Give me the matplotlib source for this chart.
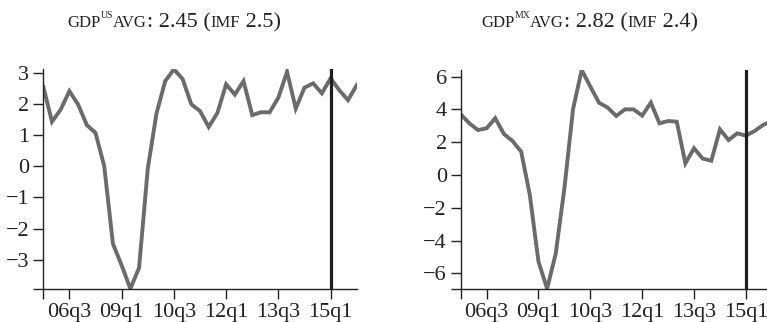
import matplotlib
matplotlib.use("Agg")
import matplotlib.pyplot as plt
from matplotlib.transforms import IdentityTransform

plt.rcParams['font.family'] = ['Liberation Serif', 'DejaVu Serif']

# ---- data ----
tick_pos = [3, 9, 15, 21, 27, 33]
tick_labels = ["06q3", "09q1", "10q3", "12q1", "13q3", "15q1"]
marker_q = 33  # vertical line position (15q1)

us_gdp = [2.55, 1.43, 1.82, 2.41, 1.98, 1.32, 1.07, 0.00, -2.49, -3.18,
          -3.93, -3.26, -0.08, 1.69, 2.73, 3.11, 2.80, 1.99, 1.77, 1.26,
          1.71, 2.63, 2.30, 2.73, 1.64, 1.73, 1.73, 2.20, 3.03, 1.85,
          2.52, 2.66, 2.34, 2.82, 2.44, 2.12, 2.60]
mx_gdp = [3.70, 3.15, 2.74, 2.85, 3.46, 2.50, 2.07, 1.42, -1.22, -5.28,
          -6.93, -4.78, -0.81, 4.02, 6.40, 5.39, 4.41, 4.11, 3.60, 4.00,
          4.00, 3.62, 4.41, 3.15, 3.29, 3.25, 0.71, 1.63, 1.00, 0.87,
          2.78, 2.13, 2.54, 2.40, 2.68, 3.05, 3.30]
us_yticks = [-3, -2, -1, 0, 1, 2, 3]
mx_yticks = [-6, -4, -2, 0, 2, 4, 6]

us_title = [("GDP", 12, 0), ("US", 7, 9), ("AVG", 12, 0), (": 2.45 (", 16, 0),
            ("IMF", 12, 0), (" 2.5)", 16, 0)]
mx_title = [("GDP", 12, 0), ("MX", 7, 9), ("AVG", 12, 0), (": 2.82 (", 16, 0),
            ("IMF", 12, 0), (" 2.4)", 16, 0)]

W, H = 767, 322
fig = plt.figure(figsize=(W / 100, H / 100), dpi=100)

line_color = "#6b6b6b"
vline_color = "#1e1e1e"
tick_fs = 16


def make_axes(rect, values, yticks):
    ax = fig.add_axes(rect)
    x = list(range(len(values)))
    ax.plot(x, values, color=line_color, lw=2.8, solid_joinstyle="miter")
    ax.axvline(marker_q, color=vline_color, lw=2.3)
    ax.set_xlim(0, len(values) - 1)
    ax.set_ylim(min(values), max(values))
    ax.set_xticks(tick_pos)
    ax.set_xticklabels(tick_labels)
    ax.set_yticks(yticks)
    ax.set_yticklabels([f"{v}".replace("-", "\u2212") for v in yticks])
    ax.set_xticks([0], minor=True)
    ax.set_yticks([min(values)], minor=True)
    for s in ("top", "right"):
        ax.spines[s].set_visible(False)
    for s in ("left", "bottom"):
        ax.spines[s].set_linewidth(1.0)
        ax.spines[s].set_color("#222222")
    ax.tick_params(which="both", direction="out", length=7, width=1.0,
                   color="#222222", labelsize=tick_fs, labelcolor="#222222", pad=3)
    ax.tick_params(which="minor", labelleft=False, labelbottom=False)
    ax.patch.set_alpha(0)
    return ax


make_axes([43.3 / W, 33.3 / H, (356.7 - 43.3) / W, (252.7 - 33.3) / H],
          us_gdp, us_yticks)
make_axes([460.7 / W, 33.3 / H, (771.8 - 460.7) / W, (252.0 - 33.3) / H],
          mx_gdp, mx_yticks)

renderer = fig.canvas.get_renderer()


def draw_title(cx, base_y, pieces):
    texts = []
    widths = []
    for s, size, rise in pieces:
        t = fig.text(0, base_y + rise, s, fontsize=size, color="#222222",
                     ha="left", va="baseline", transform=IdentityTransform())
        # measure including spaces
        w = t.get_window_extent(renderer).width
        texts.append(t)
        widths.append(w)
    total = sum(widths)
    x = cx - total / 2
    for t, w in zip(texts, widths):
        t.set_x(x)
        x += w


draw_title(174.2, H - 27.3, us_title)
draw_title(589.8, H - 27.3, mx_title)

fig.savefig("out.png", dpi=100)
